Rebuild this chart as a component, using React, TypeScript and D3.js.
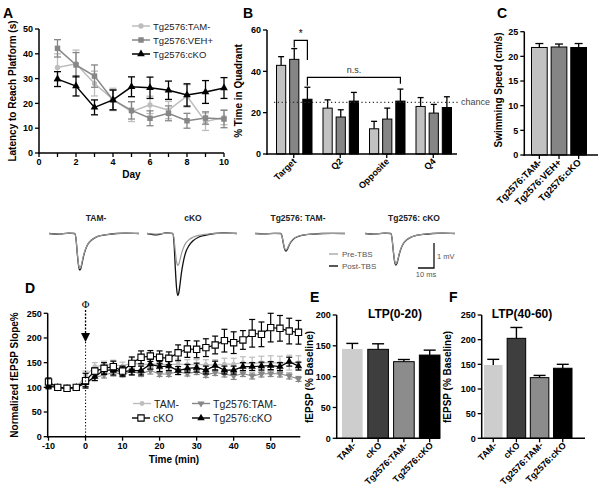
import React from 'react';
import * as d3 from 'd3';

const FONT = '"Liberation Sans", Arial, Helvetica, sans-serif';
const LIGHT = '#bdbdbd';
const MID = '#878787';

// ---------------- Panel A data ----------------
const aDays = [1, 2, 3, 4, 5, 6, 7, 8, 9, 10];
const aTamMean = [34.5, 36, 28, 21.6, 16.7, 19.4, 17.3, 23, 12.6, 14.4];
const aTamErr = [5.5, 5.5, 5, 4.5, 4, 3.5, 3.5, 4.5, 3.5, 3];
const aVehMean = [42.2, 35.5, 31, 21.4, 17.2, 14, 16, 13, 14.1, 13.7];
const aVehErr = [3.5, 5, 4.5, 4, 3.5, 3, 3, 3, 2.5, 3.5];
const aCkoMean = [29.8, 27, 18.4, 21.4, 26.7, 26.3, 25.3, 23.4, 24.6, 26.2];
const aCkoErr = [3, 4, 3, 4, 4, 4.3, 3.7, 4.5, 4.6, 4.2];
const aYTicks = [0, 10, 20, 30, 40, 50];
const aXTicks = [0, 1, 2, 3, 4, 5, 6, 7, 8, 9, 10];
const aXLabels = [0, 2, 4, 6, 8, 10];
const aLegend = ['Tg2576:TAM-', 'Tg2576:VEH+', 'Tg2576:cKO'];

// ---------------- Panel B data ----------------
const bGroups = ['Target', 'Q2', 'Opposite', 'Q4'];
const bTamMean = [42.9, 22.2, 12.2, 23];
const bTamErr = [4.2, 4, 3.6, 4.3];
const bVehMean = [45.8, 17.9, 16.9, 19.8];
const bVehErr = [5.2, 3.5, 5.3, 4.2];
const bCkoMean = [26.5, 25.6, 25.6, 22.5];
const bCkoErr = [5.8, 4.2, 5.8, 5.2];
const bYTicks = [0, 20, 40, 60];
const bChance = 25;

// ---------------- Panel C data ----------------
const cGroups = ['Tg2576:TAM-', 'Tg2576:VEH+', 'Tg2576:cKO'];
const cMean = [21.8, 21.9, 21.8];
const cErr = [0.8, 0.6, 0.8];
const cYTicks = [0, 5, 10, 15, 20, 25];

// ---------------- Traces ----------------
const traceNames = ['TAM-', 'cKO', 'Tg2576: TAM-', 'Tg2576: cKO'];
const tracePre = [1.4, 1.28, 0.66, 1.22];
const tracePost = [1.46, 2.48, 0.7, 1.26];
const waveT = [0, 6, 12, 16, 16.8, 17.6, 18.4, 19.1, 19.7, 20.4, 21.3, 22.5, 24, 26, 28.5, 32, 36, 42, 48, 56];
const waveV = [0, 0.02, -0.01, 0, 0.15, 0.55, 0.88, 1.0, 0.97, 0.85, 0.66, 0.47, 0.31, 0.2, 0.12, 0.06, 0.03, 0.0, -0.01, 0];

// ---------------- Panel D data ----------------
const dTime = [-10, -7.5, -5, -2.5, 0, 2.5, 5, 7.5, 10, 12.5, 15, 17.5, 20, 22.5, 25, 27.5, 30, 32.5, 35, 37.5, 40, 42.5, 45, 47.5, 50, 52.5, 55, 57.5];
const dTamMean = [106, 100, 99, 100, 123, 142, 145, 146, 143, 150, 146, 147, 147, 146, 147, 146, 146, 146, 145, 147, 147, 150, 148, 150, 150, 149, 150, 150];
const dTamErr = [5, 3, 3, 3, 10, 8, 8, 9, 8, 10, 10, 11, 10, 11, 10, 10, 10, 10, 11, 12, 12, 12, 13, 13, 14, 14, 15, 14];
const dCkoMean = [111, 100, 98, 100, 113.5, 133, 138.5, 142, 133, 148.6, 160.8, 163.5, 160.8, 158.8, 170, 177.7, 177, 180.4, 185.8, 194.6, 190.5, 196, 209.5, 207.4, 221, 219.6, 214, 211.5];
const dCkoErr = [8, 3, 3, 3, 15, 6, 11.5, 11, 10, 13, 13, 11, 13, 13, 16, 17, 17, 18, 18, 23, 22, 19, 28, 25, 29, 26, 26, 24];
const dTgTamMean = [104, 100, 99, 100, 108, 120, 125, 130, 127, 132, 128, 134, 127, 127, 132, 128, 132, 125, 130, 127, 123, 128, 123, 127, 128, 127, 123, 117];
const dTgTamErr = [4, 3, 2, 2, 6, 6, 6, 7, 6, 6, 6, 7, 5, 5, 6, 5, 6, 5, 6, 6, 7, 6, 6, 6, 6, 6, 6, 5];
const dTgCkoMean = [102, 100, 98, 100, 109, 121.6, 135, 135, 132, 134, 134, 147, 142, 143, 134, 138.5, 140, 135, 144, 135, 135, 142, 142, 143, 144, 142, 152, 143];
const dTgCkoErr = [5, 3, 3, 3, 8, 8, 9, 10, 9, 9, 9, 10, 10, 9, 8, 8, 9, 8, 9, 8, 8, 8, 8, 8, 8, 8, 9, 8];
const dXTicks = [-10, 0, 10, 20, 30, 40, 50];
const dYTicks = [0, 50, 100, 150, 200, 250];

// ---------------- Panels E / F ----------------
const efGroups = ['TAM-', 'cKO', 'Tg2576:TAM-', 'Tg2576:cKO'];
const eMean = [144.9, 144.3, 124.3, 135];
const eErr = [9, 9, 3.5, 8];
const fMean = [148.6, 202.7, 123, 142];
const fErr = [11.5, 22, 4.5, 8];
const eYTicks = [0, 50, 100, 150, 200];
const fYTicks = [0, 50, 100, 150, 200, 250];
const efColors = ['#cdcdcd', '#3e3e3e', '#8c8c8c', '#000000'];

// ---------------- helpers ----------------
const sym = (type: any, size: number) => d3.symbol().type(type).size(size)() as string;

function Marker({ type, x, y, size, fill, stroke, sw = 1, rot = 0 }: any) {
  return <path d={sym(type, size)} transform={`translate(${x},${y}) rotate(${rot})`} fill={fill} stroke={stroke || 'none'} strokeWidth={sw} />;
}

function ErrV({ x, y1, y2, cap, color, sw = 1 }: any) {
  return (
    <g stroke={color} strokeWidth={sw}>
      <line x1={x} x2={x} y1={y1} y2={y2} />
      <line x1={x - cap} x2={x + cap} y1={y1} y2={y1} />
      <line x1={x - cap} x2={x + cap} y1={y2} y2={y2} />
    </g>
  );
}

function YAxis({ scale, ticks, x, fs = 9 }: any) {
  const [r0, r1] = scale.range();
  return (
    <g>
      <line x1={x} x2={x} y1={r0 + 0.75} y2={r1} stroke="#000" strokeWidth={1.5} />
      {ticks.map((t: number) => (
        <g key={t}>
          <line x1={x - 4} x2={x} y1={scale(t)} y2={scale(t)} stroke="#000" strokeWidth={1.3} />
          <text x={x - 6} y={scale(t) + 3.2} textAnchor="end" fontSize={fs} fontWeight="bold" fontFamily={FONT}>{t}</text>
        </g>
      ))}
    </g>
  );
}

function VLabel({ x, y, text, fs = 10 }: any) {
  return (
    <text transform={`translate(${x},${y}) rotate(-90)`} textAnchor="middle" fontSize={fs} fontWeight="bold" fontFamily={FONT}>{text}</text>
  );
}

function PanelLabel({ x, y, t }: any) {
  return <text x={x} y={y} fontSize={14} fontWeight="bold" fontFamily={FONT}>{t}</text>;
}

function RotLabel({ x, y, text, fs = 9 }: any) {
  return (
    <text transform={`translate(${x},${y}) rotate(-45)`} textAnchor="end" fontSize={fs} fontWeight="bold" fontFamily={FONT}>{text}</text>
  );
}

// ---------------- Panel A ----------------
function PanelA() {
  const x = d3.scaleLinear().domain([0, 10]).range([39, 224]);
  const y = d3.scaleLinear().domain([0, 50]).range([153, 29]);
  const series = [
    { mean: aTamMean, err: aTamErr, color: LIGHT, type: d3.symbolCircle, size: 22 },
    { mean: aVehMean, err: aVehErr, color: MID, type: d3.symbolSquare, size: 30 },
    { mean: aCkoMean, err: aCkoErr, color: '#000', type: d3.symbolTriangle, size: 26 },
  ];
  const line = d3.line<number>().x((_, i) => x(aDays[i])).y((d) => y(d));
  return (
    <g>
      <PanelLabel x={3} y={18} t="A" />
      {series.map((s, si) => (
        <g key={si}>
          {s.mean.map((m, i) => (
            <ErrV key={i} x={x(aDays[i])} y1={y(m + s.err[i])} y2={y(m - s.err[i])} cap={3.5} color={s.color} sw={1.3} />
          ))}
          <path d={line(s.mean) as string} fill="none" stroke={s.color} strokeWidth={1.5} />
          {s.mean.map((m, i) => (
            <Marker key={i} type={s.type} x={x(aDays[i])} y={y(m)} size={s.size} fill={s.color} />
          ))}
        </g>
      ))}
      <YAxis scale={y} ticks={aYTicks} x={39} />
      <line x1={38.25} x2={224} y1={153} y2={153} stroke="#000" strokeWidth={1.5} />
      {aXTicks.map((t) => (
        <line key={t} x1={x(t)} x2={x(t)} y1={153} y2={157} stroke="#000" strokeWidth={1.3} />
      ))}
      {aXLabels.map((t) => (
        <text key={t} x={x(t)} y={165} textAnchor="middle" fontSize={9} fontWeight="bold" fontFamily={FONT}>{t}</text>
      ))}
      <text x={x(5)} y={178} textAnchor="middle" fontSize={10} fontWeight="bold" fontFamily={FONT}>Day</text>
      <VLabel x={16} y={91} text="Latency to Reach Platform (s)" />
      {aLegend.map((name, i) => {
        const s = series[i];
        const ly = 26 + i * 14;
        return (
          <g key={name}>
            <line x1={132} x2={150} y1={ly} y2={ly} stroke={s.color} strokeWidth={1.5} />
            <Marker type={s.type} x={141} y={ly} size={s.size} fill={s.color} />
            <text x={153} y={ly + 3.5} fontSize={9.5} fontFamily={FONT} fill="#222">{name}</text>
          </g>
        );
      })}
    </g>
  );
}

// ---------------- Panel B ----------------
function PanelB() {
  const y = d3.scaleLinear().domain([0, 60]).range([154, 30]);
  const xg = d3.scaleBand<string>().domain(bGroups).range([270.5, 456.5]);
  const xs = d3.scaleBand<string>().domain(['a', 'b', 'c']).range([6, 41.5]).paddingInner(0.3);
  const sets = [
    { mean: bTamMean, err: bTamErr, color: '#c2c2c2', k: 'a' },
    { mean: bVehMean, err: bVehErr, color: '#858585', k: 'b' },
    { mean: bCkoMean, err: bCkoErr, color: '#000', k: 'c' },
  ];
  const bw = xs.bandwidth();
  const bx = (g: string, k: string) => (xg(g) as number) + (xs(k) as number);
  const tgt = bGroups[0];
  const opp = bGroups[2];
  const midTgtX = bx(tgt, 'b') + bw / 2;
  const ckoTgtX = bx(tgt, 'c') + bw / 2;
  const ckoOppX = bx(opp, 'c') + bw / 2;
  return (
    <g>
      <PanelLabel x={243} y={18} t="B" />
      {sets.map((s) =>
        bGroups.map((g, i) => {
          const x0 = bx(g, s.k);
          const cx = x0 + bw / 2;
          return (
            <g key={s.k + g}>
              <line x1={cx} x2={cx} y1={y(s.mean[i])} y2={y(s.mean[i] + s.err[i])} stroke="#000" strokeWidth={1.3} />
              <line x1={cx - 3} x2={cx + 3} y1={y(s.mean[i] + s.err[i])} y2={y(s.mean[i] + s.err[i])} stroke="#000" strokeWidth={1.3} />
              <rect x={x0} y={y(s.mean[i])} width={bw} height={y(0) - y(s.mean[i])} fill={s.color} stroke="#000" strokeWidth={1} />
            </g>
          );
        })
      )}
      <line x1={274} x2={458} y1={y(bChance)} y2={y(bChance)} stroke="#333" strokeWidth={1.2} strokeDasharray="1.2,2.6" />
      <text x={461} y={y(bChance) + 3} fontSize={9} fontFamily={FONT} fill="#444">chance</text>
      <YAxis scale={y} ticks={bYTicks} x={267} />
      <line x1={266.25} x2={457} y1={154} y2={154} stroke="#000" strokeWidth={1.5} />
      {bGroups.map((g) => {
        const cx = (xg(g) as number) + xg.bandwidth() / 2;
        return (
          <g key={g}>
            <line x1={cx} x2={cx} y1={154} y2={158} stroke="#000" strokeWidth={1.3} />
            <RotLabel x={cx + 3} y={162} text={g} />
          </g>
        );
      })}
      <path d={`M${midTgtX},${y(51.5)}V${y(55)}H${ckoTgtX}V${y(45.5)}`} fill="none" stroke="#000" strokeWidth={1.2} />
      <text x={(midTgtX + ckoTgtX) / 2} y={y(56.5)} textAnchor="middle" fontSize={10} fontFamily={FONT}>*</text>
      <path d={`M${ckoTgtX},${y(33)}V${y(37.1)}H${ckoOppX}V${y(34)}`} fill="none" stroke="#000" strokeWidth={1.2} />
      <text x={(ckoTgtX + ckoOppX) / 2} y={y(39)} textAnchor="middle" fontSize={9} fontFamily={FONT} fill="#333">n.s.</text>
      <VLabel x={242} y={91} text="% Time in Quadrant" />
    </g>
  );
}

// ---------------- Panel C ----------------
function PanelC() {
  const y = d3.scaleLinear().domain([0, 25]).range([155, 31.7]);
  const x = d3.scaleBand<string>().domain(cGroups).range([531.5, 586.5]).paddingInner(0.2);
  const cols = ['#c2c2c2', '#858585', '#000'];
  const bw = x.bandwidth();
  return (
    <g>
      <PanelLabel x={497} y={18} t="C" />
      {cGroups.map((g, i) => {
        const x0 = x(g) as number;
        const cx = x0 + bw / 2;
        return (
          <g key={g}>
            <line x1={cx} x2={cx} y1={y(cMean[i])} y2={y(cMean[i] + cErr[i])} stroke="#000" strokeWidth={1.3} />
            <line x1={cx - 4} x2={cx + 4} y1={y(cMean[i] + cErr[i])} y2={y(cMean[i] + cErr[i])} stroke="#000" strokeWidth={1.3} />
            <rect x={x0} y={y(cMean[i])} width={bw} height={y(0) - y(cMean[i])} fill={cols[i]} stroke="#000" strokeWidth={1} />
          </g>
        );
      })}
      <YAxis scale={y} ticks={cYTicks} x={524.3} />
      <line x1={523.5} x2={598} y1={155} y2={155} stroke="#000" strokeWidth={1.5} />
      {cGroups.map((g) => {
        const cx = (x(g) as number) + bw / 2;
        return (
          <g key={g}>
            <line x1={cx} x2={cx} y1={155} y2={159} stroke="#000" strokeWidth={1.3} />
            <RotLabel x={cx + 3} y={163} text={g} fs={9.5} />
          </g>
        );
      })}
      <VLabel x={502} y={90} text="Swimming Speed (cm/s)" />
    </g>
  );
}

// ---------------- Traces ----------------
function Traces() {
  const xt = d3.scaleLinear().domain([0, 56]).range([0, 90]);
  const yt = d3.scaleLinear().domain([0, 1]).range([0, 25]);
  const starts = [49, 147, 255, 365];
  const base = 233.5;
  const titleX = [96, 193, 298, 414];
  const mk = (x0: number, amp: number) =>
    d3.line<number>().x((_, k) => x0 + xt(waveT[k])).y((v) => base + yt(amp * v)).curve(d3.curveMonotoneX)(waveV) as string;
  const sbX = 434;
  const sbY = 268;
  return (
    <g>
      {traceNames.map((n, i) => (
        <g key={n}>
          <text x={titleX[i]} y={221} textAnchor="middle" fontSize={8.5} fontWeight="bold" fontFamily={FONT} fill="#222">{n}</text>
          <path d={mk(starts[i], tracePost[i])} fill="none" stroke="#111" strokeWidth={1.3} />
          <path d={mk(starts[i], tracePre[i])} fill="none" stroke="#9a9a9a" strokeWidth={1.2} />
        </g>
      ))}
      <line x1={329} x2={338} y1={254} y2={254} stroke="#9a9a9a" strokeWidth={1.2} />
      <text x={342} y={257} fontSize={8} fontFamily={FONT} fill="#555">Pre-TBS</text>
      <line x1={329} x2={338} y1={266} y2={266} stroke="#111" strokeWidth={1.4} />
      <text x={342} y={269} fontSize={8} fontFamily={FONT} fill="#555">Post-TBS</text>
      <path d={`M${sbX - xt(10)},${sbY}H${sbX}V${sbY - yt(1)}`} fill="none" stroke="#111" strokeWidth={1.3} />
      <text x={sbX + 3} y={259} fontSize={7.5} fontFamily={FONT} fill="#555">1 mV</text>
      <text x={sbX - xt(10) / 2} y={277} textAnchor="middle" fontSize={7.5} fontFamily={FONT} fill="#555">10 ms</text>
    </g>
  );
}

// ---------------- Panel D ----------------
function PanelD() {
  const x = d3.scaleLinear().domain([-10, 50]).range([48.5, 270.7]);
  const y = d3.scaleLinear().domain([0, 250]).range([436.7, 313.3]);
  const series = [
    { mean: dTamMean, err: dTamErr, color: LIGHT, type: d3.symbolCircle, size: 18, fill: LIGHT, rot: 0, name: 'TAM-' },
    { mean: dTgTamMean, err: dTgTamErr, color: MID, type: d3.symbolTriangle, size: 22, fill: MID, rot: 180, name: 'Tg2576:TAM-' },
    { mean: dTgCkoMean, err: dTgCkoErr, color: '#000', type: d3.symbolTriangle, size: 24, fill: '#000', rot: 0, name: 'Tg2576:cKO' },
    { mean: dCkoMean, err: dCkoErr, color: '#000', type: d3.symbolSquare, size: 40, fill: '#fff', rot: 0, name: 'cKO' },
  ];
  const line = d3.line<number>().x((_, i) => x(dTime[i])).y((d) => y(d));
  const legendPos = [
    { s: 0, lx: 133, ly: 403.5 },
    { s: 3, lx: 132, ly: 418 },
    { s: 1, lx: 192, ly: 403.5 },
    { s: 2, lx: 192, ly: 418 },
  ];
  const x0 = x(0);
  return (
    <g>
      <PanelLabel x={25} y={293} t="D" />
      {series.map((s, si) => (
        <g key={si}>
          {s.mean.map((m, i) => (
            <ErrV key={i} x={x(dTime[i])} y1={y(m + s.err[i])} y2={y(m - s.err[i])} cap={3} color={s.color} sw={1.2} />
          ))}
          <path d={line(s.mean) as string} fill="none" stroke={s.color} strokeWidth={1.2} />
          {s.mean.map((m, i) => (
            <Marker key={i} type={s.type} x={x(dTime[i])} y={y(m)} size={s.size} fill={s.fill} stroke={si === 3 ? '#000' : undefined} sw={1.1} rot={s.rot} />
          ))}
        </g>
      ))}
      <line x1={x0} x2={x0} y1={342} y2={436} stroke="#000" strokeWidth={1.1} strokeDasharray="1.2,2" />
      <line x1={x0} x2={x0} y1={310} y2={334} stroke="#000" strokeWidth={1.3} strokeDasharray="2,1.5" />
      <path d={`M${x0 - 4.5},${333}L${x0 + 4.5},${333}L${x0},${342}Z`} fill="#000" />
      <text x={x0} y={308} textAnchor="middle" fontSize={10} fontFamily='"DejaVu Serif", serif'>Φ</text>
      <YAxis scale={y} ticks={dYTicks} x={47.7} />
      <line x1={47} x2={300.3} y1={436.7} y2={436.7} stroke="#000" strokeWidth={1.5} />
      {dXTicks.map((t) => (
        <g key={t}>
          <line x1={x(t)} x2={x(t)} y1={436.7} y2={440.7} stroke="#000" strokeWidth={1.3} />
          <text x={x(t)} y={449} textAnchor="middle" fontSize={9} fontWeight="bold" fontFamily={FONT}>{t}</text>
        </g>
      ))}
      <text x={174} y={463} textAnchor="middle" fontSize={10} fontWeight="bold" fontFamily={FONT}>Time (min)</text>
      <VLabel x={18} y={375} text="Normalized fEPSP Slope%" />
      {legendPos.map(({ s, lx, ly }) => {
        const se = series[s];
        return (
          <g key={se.name}>
            <line x1={lx} x2={lx + 18} y1={ly} y2={ly} stroke={se.color} strokeWidth={1.4} />
            <Marker type={se.type} x={lx + 9} y={ly} size={se.size} fill={se.fill} stroke={s === 3 ? '#000' : undefined} sw={1.1} rot={se.rot} />
            <text x={lx + 21} y={ly + 4} fontSize={10.5} fontFamily={FONT} fill="#222">{se.name}</text>
          </g>
        );
      })}
    </g>
  );
}

// ---------------- Panels E & F ----------------
function BarPanel({ label, lx, title, tx, mean, err, ticks, ymax, axX, axEnd, range }: any) {
  const y = d3.scaleLinear().domain([0, ymax]).range([438.3, 315]);
  const x = d3.scaleBand<string>().domain(efGroups).range(range).paddingInner(0.2);
  const bw = x.bandwidth();
  return (
    <g>
      <PanelLabel x={lx} y={302} t={label} />
      <text x={tx} y={318} textAnchor="middle" fontSize={12} fontWeight="bold" fontFamily={FONT}>{title}</text>
      {efGroups.map((g, i) => {
        const x0 = x(g) as number;
        const cx = x0 + bw / 2;
        return (
          <g key={g}>
            <line x1={cx} x2={cx} y1={y(mean[i])} y2={y(mean[i] + err[i])} stroke="#000" strokeWidth={1.4} />
            <line x1={cx - 6} x2={cx + 6} y1={y(mean[i] + err[i])} y2={y(mean[i] + err[i])} stroke="#000" strokeWidth={1.4} />
            <rect x={x0} y={y(mean[i])} width={bw} height={y(0) - y(mean[i])} fill={efColors[i]} stroke={i === 0 ? 'none' : '#000'} strokeWidth={1} />
          </g>
        );
      })}
      <YAxis scale={y} ticks={ticks} x={axX} />
      <line x1={axX - 0.75} x2={axEnd} y1={438.3} y2={438.3} stroke="#000" strokeWidth={1.5} />
      {efGroups.map((g) => {
        const cx = (x(g) as number) + bw / 2;
        return (
          <g key={g}>
            <line x1={cx} x2={cx} y1={438.3} y2={442.3} stroke="#000" strokeWidth={1.3} />
            <RotLabel x={cx + 4} y={446} text={g} />
          </g>
        );
      })}
    </g>
  );
}

export default function App() {
  return (
    <svg width={600} height={494} style={{ position: 'absolute', left: 0, top: 0, background: '#fff' }}>
      <rect width={600} height={494} fill="#fff" />
      <PanelA />
      <PanelB />
      <PanelC />
      <Traces />
      <PanelD />
      <BarPanel label="E" lx={310} title="LTP(0-20)" tx={395} mean={eMean} err={eErr} ticks={eYTicks} ymax={200} axX={336.7} axEnd={440} range={[342, 440]} />
      <VLabel x={313} y={377} text="fEPSP (% Baseline)" />
      <BarPanel label="F" lx={449} title="LTP(40-60)" tx={522} mean={fMean} err={fErr} ticks={fYTicks} ymax={250} axX={481.7} axEnd={585} range={[484, 572]} />
      <VLabel x={451} y={377} text="fEPSP (% Baseline)" />
    </svg>
  );
}
